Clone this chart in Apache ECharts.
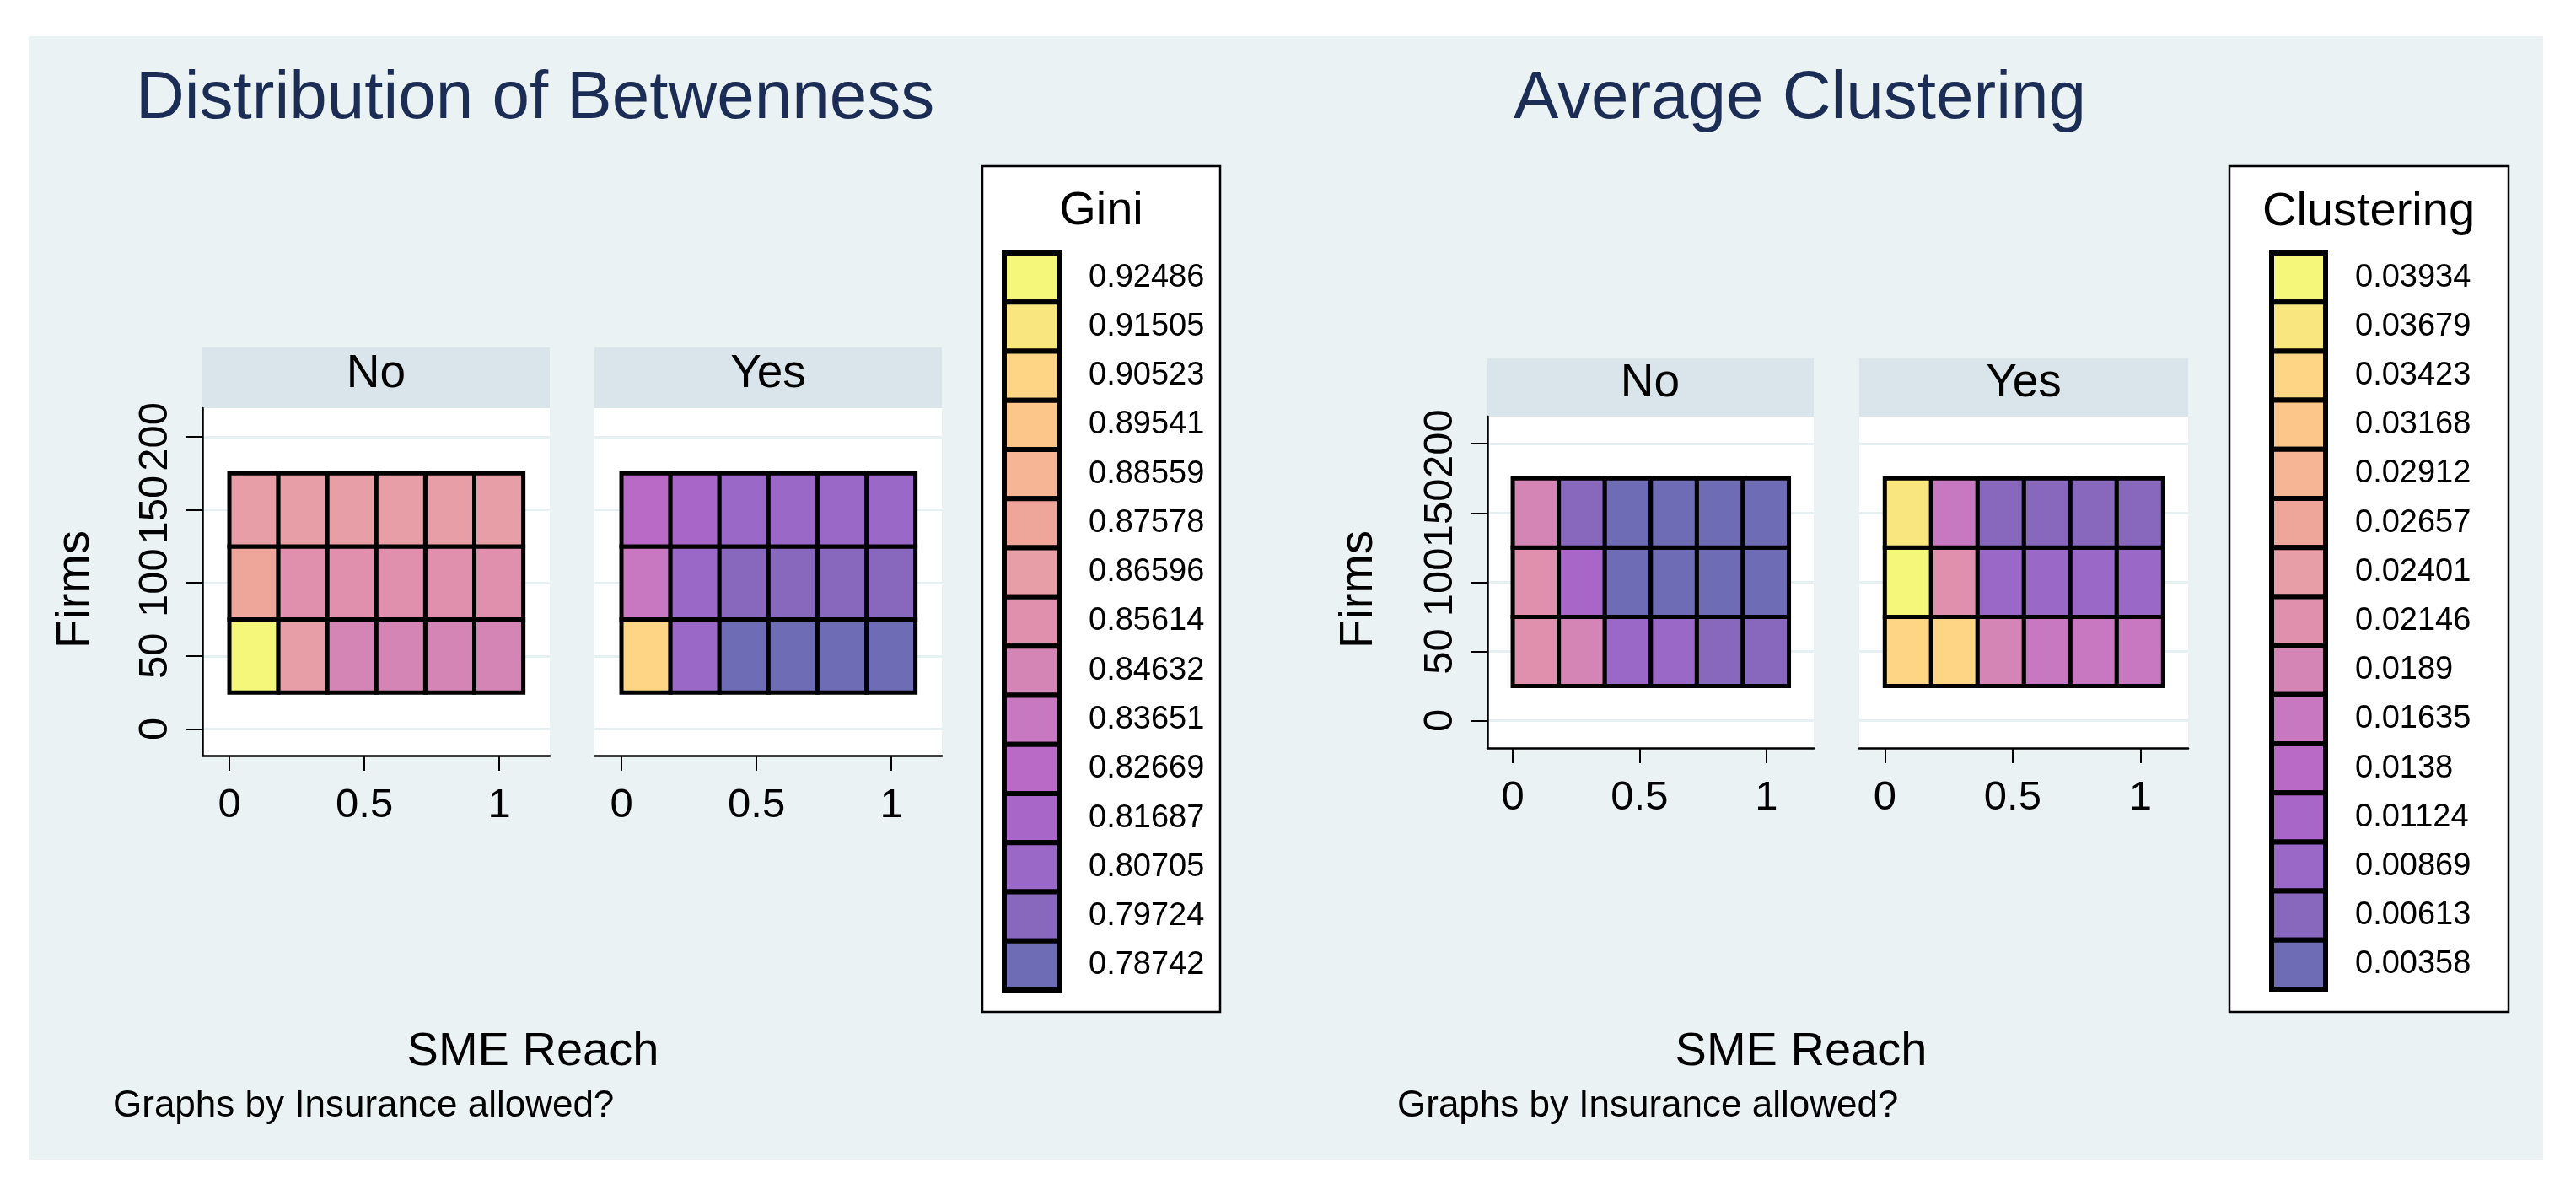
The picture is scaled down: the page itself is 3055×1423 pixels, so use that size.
<!DOCTYPE html>
<html>
<head>
<meta charset="utf-8">
<script src="https://cdn.jsdelivr.net/npm/echarts@6/dist/echarts.min.js"></script>
<style>
html,body{margin:0;padding:0;background:#ffffff;}
#bg{position:absolute;left:34px;top:43px;width:2982px;height:1332px;background:#eaf2f3;}
#main{position:absolute;left:0;top:0;width:3055px;height:1423px;}
</style>
</head>
<body>
<div id="bg"></div>
<div id="main"></div>
<script>
// ---------------- data ----------------
const panels = ['No', 'Yes'];
const xEdges = [0, 0.1815, 0.363, 0.5445, 0.726, 0.9075, 1.089];   // SME Reach bins
const yEdges = [25, 75, 125, 175];                                  // Firms bins
const xTicks = [0, 0.5, 1];
const yTicks = [0, 50, 100, 150, 200];

const giniLabels = ['0.92486','0.91505','0.90523','0.89541','0.88559','0.87578','0.86596','0.85614','0.84632','0.83651','0.82669','0.81687','0.80705','0.79724','0.78742'];
const clusLabels = ['0.03934','0.03679','0.03423','0.03168','0.02912','0.02657','0.02401','0.02146','0.0189','0.01635','0.0138','0.01124','0.00869','0.00613','0.00358'];
const palette = ['#f4f77a','#fae67e','#fdd585','#fcc68b','#f6b594','#efa69a','#e89ea6','#e090ac','#d585b5','#c878c1','#b86ac6','#a867c8','#9a68c7','#8768bd','#6e6cb5'];

// rows: bottom (25-75), middle (75-125), top (125-175); columns follow xEdges
const giniNo = [
  [0.92486, 0.86596, 0.84632, 0.84632, 0.84632, 0.84632],
  [0.87578, 0.85614, 0.85614, 0.85614, 0.85614, 0.85614],
  [0.86596, 0.86596, 0.86596, 0.86596, 0.86596, 0.86596]
];
const giniYes = [
  [0.90523, 0.80705, 0.78742, 0.78742, 0.78742, 0.78742],
  [0.83651, 0.80705, 0.79724, 0.79724, 0.79724, 0.79724],
  [0.82669, 0.81687, 0.80705, 0.80705, 0.80705, 0.80705]
];
const clusNo = [
  [0.02146, 0.0189, 0.00869, 0.00869, 0.00613, 0.00613],
  [0.02146, 0.01124, 0.00358, 0.00358, 0.00358, 0.00358],
  [0.0189, 0.00613, 0.00358, 0.00358, 0.00358, 0.00358]
];
const clusYes = [
  [0.03423, 0.03423, 0.0189, 0.01635, 0.01635, 0.01635],
  [0.03934, 0.02146, 0.00869, 0.00869, 0.00869, 0.00869],
  [0.03679, 0.01635, 0.00613, 0.00613, 0.00613, 0.00613]
];

// ---------------- helpers ----------------
const FONT = '"Liberation Sans", Arial, sans-serif';
function cellData(m) {
  const out = [];
  for (let r = 0; r < m.length; r++)
    for (let c = 0; c < m[r].length; c++)
      out.push([xEdges[c], yEdges[r], m[r][c], xEdges[c + 1], yEdges[r + 1]]);
  return out;
}
function legendData(labels) { return labels.map((s, i) => [0, i, Number(s)]); }
function buildPieces(labels) {
  const v = labels.map(Number);
  return v.map((val, i) => {
    const p = { color: palette[i] };
    if (i < v.length - 1) p.gte = (v[i] + v[i + 1]) / 2;
    if (i > 0) p.lt = (v[i - 1] + v[i]) / 2;
    return p;
  });
}
function cellItem(params, api) {
  const a = api.coord([api.value(0), api.value(4)]);
  const b = api.coord([api.value(3), api.value(1)]);
  return { type: 'rect', shape: { x: a[0], y: a[1], width: b[0] - a[0], height: b[1] - a[1] },
           style: { fill: api.visual('color'), stroke: '#000', lineWidth: 5 } };
}
function legendItem(params, api) {
  const c = api.coord([api.value(0), api.value(1)]);
  const s = api.size([1, 1]);
  return { type: 'rect', shape: { x: c[0] - s[0] / 2, y: c[1] - s[1] / 2, width: s[0], height: s[1] },
           style: { fill: api.visual('color'), stroke: '#000', lineWidth: 6 } };
}

// ---------------- layout ----------------
const plots = [
  { left: 240,  top: 484, width: 412, height: 412, yMin: -18.2, yAxis: true },
  { left: 705,  top: 484, width: 412, height: 412, yMin: -18.2, yAxis: false },
  { left: 1764, top: 494, width: 387, height: 393, yMin: -19.8, yAxis: true },
  { left: 2205, top: 494, width: 390, height: 393, yMin: -19.8, yAxis: false }
];
const X_MIN = -0.1, X_MAX = 1.187, Y_MAX = 219.6;

const grids = [], xAxes = [], yAxes = [];
plots.forEach((p, i) => {
  grids.push({ left: p.left, top: p.top, width: p.width, height: p.height, show: true,
               backgroundColor: '#ffffff', borderWidth: 0, containLabel: false });
  xAxes.push({
    gridIndex: i, type: 'value', min: X_MIN, max: X_MAX,
    axisLine: { show: true, onZero: false, lineStyle: { color: '#000', width: 2.5 } },
    axisTick: { show: true, length: 18, customValues: xTicks, lineStyle: { color: '#000', width: 2 } },
    axisLabel: { show: true, customValues: xTicks, fontSize: 49, fontFamily: FONT, color: '#000', margin: 35,
                 formatter: v => String(v) },
    splitLine: { show: false }
  });
  yAxes.push({
    gridIndex: i, type: 'value', min: p.yMin, max: Y_MAX,
    axisLine: { show: p.yAxis, onZero: false, lineStyle: { color: '#000', width: 2.5 } },
    axisTick: { show: p.yAxis, length: 19, customValues: yTicks, lineStyle: { color: '#000', width: 2 } },
    axisLabel: { show: p.yAxis, customValues: yTicks, rotate: 90, fontSize: 49, fontFamily: FONT, color: '#000',
                 margin: 31, formatter: v => String(v) },
    splitLine: { show: true, lineStyle: { color: '#e6eff1', width: 3 } }
  });
});
// legend columns
const legends = [
  { left: 1191, top: 300, width: 65, height: 874, labels: giniLabels },
  { left: 2694, top: 300, width: 64, height: 873, labels: clusLabels }
];
legends.forEach((l, k) => {
  const gi = 4 + k;
  grids.push({ left: l.left, top: l.top, width: l.width, height: l.height, show: false, containLabel: false });
  xAxes.push({ gridIndex: gi, type: 'category', data: ['c'], show: false });
  yAxes.push({ gridIndex: gi, type: 'category', data: l.labels, inverse: true, position: 'right',
               axisLine: { show: false }, axisTick: { show: false }, splitLine: { show: false },
               axisLabel: { interval: 0, fontSize: 38, fontFamily: FONT, color: '#000', margin: 35 } });
});

const series = [
  { type: 'custom', name: 'Gini No',  xAxisIndex: 0, yAxisIndex: 0, renderItem: cellItem, data: cellData(giniNo) },
  { type: 'custom', name: 'Gini Yes', xAxisIndex: 1, yAxisIndex: 1, renderItem: cellItem, data: cellData(giniYes) },
  { type: 'custom', name: 'Clus No',  xAxisIndex: 2, yAxisIndex: 2, renderItem: cellItem, data: cellData(clusNo) },
  { type: 'custom', name: 'Clus Yes', xAxisIndex: 3, yAxisIndex: 3, renderItem: cellItem, data: cellData(clusYes) },
  { type: 'custom', name: 'Gini key', xAxisIndex: 4, yAxisIndex: 4, renderItem: legendItem, data: legendData(giniLabels) },
  { type: 'custom', name: 'Clus key', xAxisIndex: 5, yAxisIndex: 5, renderItem: legendItem, data: legendData(clusLabels) }
];

// ---------------- texts / decorations ----------------
function txt(text, x, y, size, opts) {
  opts = opts || {};
  return { type: 'text', x: x, y: y, rotation: opts.rotation || 0, z: 10,
           style: { text: text, fontSize: size, fontFamily: FONT, fill: opts.color || '#000',
                    align: opts.align || 'center', verticalAlign: 'middle',
                    textAlign: opts.align || 'center', textVerticalAlign: 'middle' } };
}
function rect(x, y, w, h, fill, stroke, lw) {
  return { type: 'rect', z: 0, shape: { x: x, y: y, width: w, height: h },
           style: { fill: fill, stroke: stroke || null, lineWidth: lw || 0 } };
}
const NAVY = '#1c2d55';
const graphic = [
  // facet headers
  rect(240, 412, 412, 72, '#d9e5ea'), rect(705, 412, 412, 72, '#d9e5ea'),
  rect(1764, 425, 387, 69, '#d9e5ea'), rect(2205, 425, 390, 69, '#d9e5ea'),
  txt(panels[0], 446, 444, 55), txt(panels[1], 911, 444, 55),
  txt(panels[0], 1957, 455, 55), txt(panels[1], 2400, 455, 55),
  // legend boxes
  rect(1165, 197, 282, 1003, '#ffffff', '#000', 2.5),
  rect(2644, 197, 331, 1003, '#ffffff', '#000', 2.5),
  txt('Gini', 1306, 251, 56), txt('Clustering', 2809, 252, 56),
  // titles
  txt('Distribution of Betwenness', 161, 118, 80, { align: 'left', color: NAVY }),
  txt('Average Clustering', 1795, 118, 80, { align: 'left', color: NAVY }),
  // axis titles
  txt('Firms', 90, 699, 56, { rotation: Math.PI / 2 }),
  txt('Firms', 1612, 699, 56, { rotation: Math.PI / 2 }),
  txt('SME Reach', 632, 1248, 56), txt('SME Reach', 2136, 1248, 56),
  // notes
  txt('Graphs by Insurance allowed?', 134, 1312, 44, { align: 'left' }),
  txt('Graphs by Insurance allowed?', 1657, 1312, 44, { align: 'left' })
];

const chart = echarts.init(document.getElementById('main'), null, { renderer: 'canvas' });
chart.setOption({
  animation: false,
  backgroundColor: 'transparent',
  grid: grids,
  xAxis: xAxes,
  yAxis: yAxes,
  visualMap: [
    { type: 'piecewise', show: false, dimension: 2, seriesIndex: [0, 1, 4], pieces: buildPieces(giniLabels) },
    { type: 'piecewise', show: false, dimension: 2, seriesIndex: [2, 3, 5], pieces: buildPieces(clusLabels) }
  ],
  graphic: graphic,
  series: series
});
</script>
</body>
</html>
